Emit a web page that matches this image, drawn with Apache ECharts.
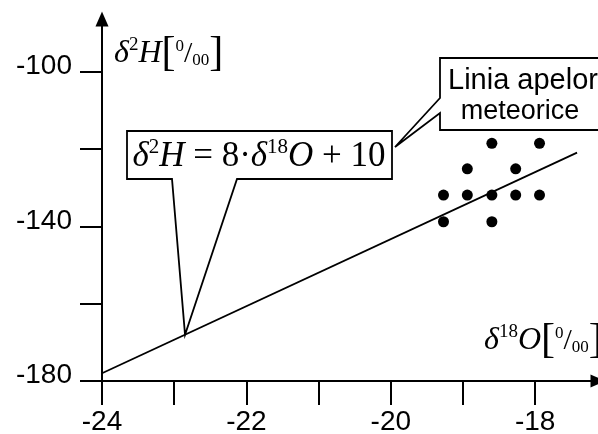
<!DOCTYPE html>
<html><head><meta charset="utf-8">
<script src="https://cdn.jsdelivr.net/npm/echarts@6/dist/echarts.min.js"></script>
<style>html,body{margin:0;padding:0;background:#fff}#c{width:598px;height:434px}</style>
</head><body><div id="c"></div>
<script>
// ---- data ----
const xTicks = [-24, -23, -22, -21, -20, -19, -18];
const xLabels = [-24, -22, -20, -18];
const yTicks = [-180, -160, -140, -120, -100];
const yLabels = [-180, -140, -100];
const pointsX = [-18.6, -17.94, -18.94, -18.27, -19.27, -18.94, -18.6, -18.27, -17.94, -19.27, -18.6];
const pointsY = [-118.5, -118.5, -125.1, -125.1, -131.9, -131.9, -131.9, -131.9, -131.9, -138.8, -138.8];
const lineX = [-24, -17.42];
const lineY = [-178, -120.9];
const calloutX = -22.85;
const xMax = -17.13;
const yMax = -86.34;

const serif = '"Liberation Serif","Times New Roman",serif';
const sans = '"Liberation Sans",Arial,sans-serif';

const chart = echarts.init(document.getElementById('c'), null, {renderer: 'canvas'});
chart.setOption({
  animation: false,
  backgroundColor: '#fff',
  grid: {left: 102, right: 0, top: 19, bottom: 53, containLabel: false, outerBoundsMode: 'none'},
  xAxis: {
    type: 'value', min: xTicks[0], max: xMax, interval: 1,
    axisLine: {onZero: false, lineStyle: {color: '#000', width: 2}, symbol: ['none', 'triangle'], symbolSize: [13, 15]},
    axisTick: {show: true, length: 24, lineStyle: {color: '#000', width: 2}, customValues: xTicks},
    axisLabel: {customValues: xLabels, margin: 27, fontSize: 28, color: '#000', fontFamily: sans, formatter: v => String(v)},
    splitLine: {show: false}
  },
  yAxis: {
    type: 'value', min: yTicks[0], max: yMax, interval: 20,
    axisLine: {onZero: false, lineStyle: {color: '#000', width: 2}, symbol: ['none', 'triangle'], symbolSize: [13, 15]},
    axisTick: {show: true, length: 22, lineStyle: {color: '#000', width: 2}, customValues: yTicks},
    axisLabel: {customValues: yLabels, margin: 30, color: '#000',
      formatter: v => '{a|' + v + '}',
      rich: {a: {fontSize: 28, fontFamily: sans, color: '#000', padding: [0, 0, 11, 0]}}},
    splitLine: {show: false}
  },
  series: [
    {type: 'line', data: lineX.map((x, i) => [x, lineY[i]]), showSymbol: false, symbol: 'none',
     lineStyle: {color: '#000', width: 1.8}, z: 2, silent: true},
    {type: 'scatter', data: pointsX.map((x, i) => [x, pointsY[i]]), symbolSize: 11,
     itemStyle: {color: '#000', opacity: 1}, z: 3}
  ]
});

// apex of equation pointer: point on the meteoric line
const t = (calloutX - lineX[0]) / (lineX[1] - lineX[0]);
const apexY = lineY[0] + t * (lineY[1] - lineY[0]);
const apex = chart.convertToPixel({seriesIndex: 0}, [calloutX, apexY]);

const eqRich = {
  d: {fontFamily: serif, fontStyle: 'italic', fontSize: 35, fill: '#000'},
  s: {fontFamily: serif, fontSize: 21, fill: '#000', padding: [0, 0, 20, 0]},
  o: {fontFamily: serif, fontSize: 35, fill: '#000'}
};
const nameRich = (sz) => ({
  d: {fontFamily: serif, fontStyle: 'italic', fontSize: sz, fill: '#000'},
  s: {fontFamily: serif, fontSize: Math.round(sz * 0.6), fill: '#000', padding: [0, 0, Math.round(sz * 0.55), 0]},
  b: {fontFamily: serif, fontSize: 42, fill: '#000'},
  n: {fontFamily: serif, fontSize: 17, fill: '#000', padding: [0, 0, 14, 0]},
  sl: {fontFamily: serif, fontSize: 30, fill: '#000'},
  m: {fontFamily: serif, fontSize: 17, fill: '#000', padding: [14, 0, 0, 0]}
});

chart.setOption({
  graphic: [
    {type: 'polygon', z: 10,
     shape: {points: [[127, 131], [392, 131], [392, 179], [237, 179], apex, [172, 179], [127, 179]]},
     style: {fill: '#fff', stroke: '#000', lineWidth: 1.8}},
    {type: 'text', z: 11, x: 259, y: 157,
     style: {text: '{d|δ}{s|2}{d|H}{o| = 8·}{d|δ}{s|18}{d|O}{o| + 10}', rich: eqRich,
             align: 'center', verticalAlign: 'middle'}},
    {type: 'polygon', z: 10,
     shape: {points: [[440, 58], [620, 58], [620, 130], [440, 130], [440, 113], [395, 147], [440, 98]]},
     style: {fill: '#fff', stroke: '#000', lineWidth: 1.8}},
    {type: 'text', z: 11, x: 448, y: 81,
     style: {text: 'Linia apelor', font: '29px ' + sans, fill: '#000', align: 'left', verticalAlign: 'middle'}},
    {type: 'text', z: 11, x: 520, y: 112,
     style: {text: 'meteorice', font: '27px ' + sans, fill: '#000', align: 'center', verticalAlign: 'middle'}},
    {type: 'text', z: 11, x: 114, y: 54,
     style: {text: '{d|δ}{s|2}{d|H}{b|[}{n|0}{sl|/}{m|00}{b|]}', rich: nameRich(32),
             align: 'left', verticalAlign: 'middle'}},
    {type: 'text', z: 11, x: 484, y: 341,
     style: {text: '{d|δ}{s|18}{d|O}{b|[}{n|0}{sl|/}{m|00}{b|]}', rich: nameRich(32),
             align: 'left', verticalAlign: 'middle'}}
  ]
});
</script>
</body></html>
